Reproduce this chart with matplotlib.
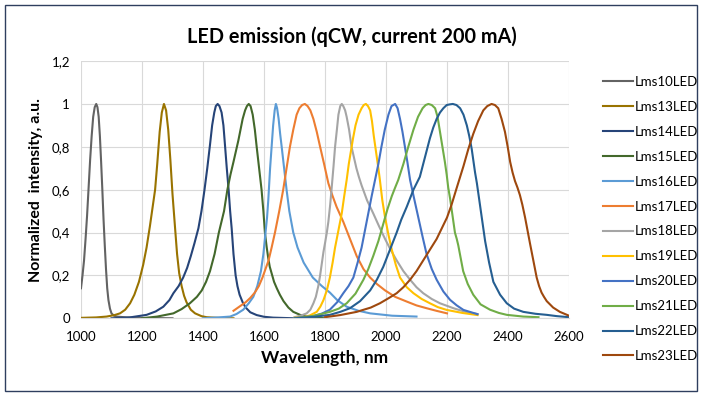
import matplotlib
matplotlib.use("Agg")
import matplotlib.pyplot as plt
from matplotlib.patches import Rectangle

plt.rcParams["font.family"] = ["Lato", "DejaVu Sans"]

# values (wavelength nm, normalized intensity)
lms10_x = [1000, 1005, 1010, 1015, 1020, 1025, 1030, 1035, 1040, 1045, 1050, 1054, 1058, 1062, 1066, 1070,
           1074, 1078, 1082, 1086, 1090, 1095, 1100, 1108, 1117, 1150, 1200, 1300]
lms10_y = [0.14, 0.2, 0.27, 0.37, 0.48, 0.61, 0.74, 0.85, 0.94, 0.985, 1.0, 0.985, 0.94, 0.85, 0.73, 0.6,
           0.46, 0.34, 0.23, 0.14, 0.085, 0.045, 0.023, 0.012, 0.008, 0.004, 0.002, 0.0]

lms13_x = [1000, 1050, 1084, 1110, 1128, 1145, 1161, 1175, 1190, 1204, 1215, 1226, 1235, 1243, 1250, 1258,
           1265, 1272, 1279, 1286, 1293, 1300, 1308, 1315, 1322, 1330, 1338, 1346, 1360, 1374, 1395, 1412,
           1450, 1500]
lms13_y = [0.002, 0.004, 0.008, 0.015, 0.023, 0.04, 0.07, 0.11, 0.17, 0.25, 0.33, 0.43, 0.52, 0.6, 0.72, 0.87,
           0.96, 1.0, 0.97, 0.88, 0.74, 0.58, 0.43, 0.3, 0.21, 0.15, 0.105, 0.075, 0.04, 0.023, 0.01, 0.005,
           0.002, 0.0]

lms14_x = [1100, 1160, 1215, 1245, 1270, 1290, 1303, 1320, 1335, 1348, 1360, 1372, 1385, 1395, 1405, 1414,
           1423, 1430, 1437, 1442, 1448, 1454, 1461, 1467, 1472, 1478, 1484, 1489, 1494, 1500, 1507, 1513,
           1520, 1530, 1540, 1555, 1576, 1600, 1630, 1700]
lms14_y = [0.0, 0.004, 0.016, 0.032, 0.054, 0.085, 0.117, 0.15, 0.19, 0.235, 0.29, 0.35, 0.42, 0.5, 0.6, 0.7,
           0.81, 0.9, 0.96, 0.99, 1.0, 0.99, 0.96, 0.9, 0.81, 0.7, 0.6, 0.5, 0.42, 0.3, 0.2, 0.15,
           0.11, 0.075, 0.05, 0.028, 0.015, 0.007, 0.003, 0.0]

lms15_x = [1200, 1250, 1303, 1330, 1357, 1380, 1396, 1410, 1423, 1438, 1452, 1469, 1480, 1490, 1500, 1508,
           1516, 1523, 1530, 1538, 1544, 1550, 1556, 1563, 1570, 1576, 1584, 1592, 1598, 1603, 1609, 1614,
           1619, 1625, 1633, 1642, 1652, 1664, 1680, 1696, 1720, 1740, 1800]
lms15_y = [0.0, 0.008, 0.023, 0.043, 0.07, 0.1, 0.13, 0.17, 0.22, 0.3, 0.4, 0.5, 0.6, 0.67, 0.73, 0.78,
           0.83, 0.88, 0.93, 0.97, 0.99, 1.0, 0.99, 0.95, 0.88, 0.8, 0.7, 0.6, 0.5, 0.4, 0.33, 0.28,
           0.24, 0.21, 0.17, 0.14, 0.11, 0.08, 0.05, 0.03, 0.015, 0.008, 0.0]

lms16_x = [1400, 1450, 1489, 1510, 1532, 1550, 1565, 1578, 1590, 1598, 1605, 1610, 1614, 1620, 1625, 1630,
           1635, 1639, 1643, 1648, 1653, 1658, 1666, 1674, 1683, 1696, 1710, 1730, 1760, 1790, 1816, 1840,
           1871, 1910, 1948, 2020, 2100]
lms16_y = [0.0, 0.004, 0.008, 0.02, 0.04, 0.07, 0.1, 0.15, 0.22, 0.3, 0.4, 0.47, 0.55, 0.7, 0.8, 0.9,
           0.97, 1.0, 0.98, 0.93, 0.86, 0.8, 0.7, 0.6, 0.5, 0.4, 0.33, 0.26, 0.19, 0.15, 0.12, 0.085,
           0.054, 0.035, 0.023, 0.012, 0.008]

lms17_x = [1500, 1520, 1540, 1555, 1570, 1583, 1595, 1605, 1615, 1625, 1636, 1650, 1663, 1674, 1685, 1696,
           1707, 1716, 1725, 1734, 1743, 1752, 1762, 1773, 1784, 1797, 1811, 1825, 1838, 1860, 1882, 1904,
           1926, 1948, 1970, 1997, 2030, 2068, 2100, 2133, 2165, 2200]
lms17_y = [0.035, 0.055, 0.075, 0.095, 0.12, 0.15, 0.19, 0.23, 0.27, 0.33, 0.4, 0.5, 0.6, 0.7, 0.8, 0.88,
           0.95, 0.98, 0.995, 1.0, 0.99, 0.97, 0.93, 0.87, 0.8, 0.72, 0.63, 0.57, 0.52, 0.45, 0.37, 0.29,
           0.23, 0.19, 0.16, 0.13, 0.1, 0.078, 0.06, 0.047, 0.035, 0.023]

lms18_x = [1700, 1720, 1740, 1752, 1762, 1770, 1778, 1784, 1790, 1795, 1800, 1806, 1811, 1817, 1822, 1828,
           1833, 1839, 1844, 1850, 1855, 1860, 1866, 1871, 1879, 1887, 1895, 1903, 1911, 1920, 1938, 1958,
           1977, 1997, 2015, 2035, 2057, 2079, 2100, 2122, 2150, 2177, 2221, 2260, 2300]
lms18_y = [0.005, 0.012, 0.023, 0.04, 0.07, 0.1, 0.15, 0.2, 0.26, 0.31, 0.35, 0.4, 0.45, 0.53, 0.61, 0.71,
           0.8, 0.88, 0.95, 0.99, 1.0, 0.99, 0.97, 0.94, 0.88, 0.8, 0.75, 0.7, 0.66, 0.62, 0.55, 0.49,
           0.43, 0.37, 0.32, 0.27, 0.22, 0.18, 0.145, 0.117, 0.09, 0.07, 0.047, 0.03, 0.02]

lms19_x = [1700, 1729, 1750, 1773, 1785, 1795, 1806, 1816, 1825, 1833, 1844, 1855, 1863, 1871, 1878, 1885,
           1892, 1900, 1910, 1920, 1927, 1934, 1941, 1948, 1954, 1960, 1965, 1970, 1975, 1980, 1988, 1997,
           2008, 2019, 2032, 2046, 2068, 2090, 2117, 2144, 2170, 2199, 2250, 2300]
lms19_y = [0.002, 0.005, 0.013, 0.03, 0.055, 0.085, 0.13, 0.19, 0.26, 0.33, 0.41, 0.49, 0.57, 0.645, 0.72, 0.78,
           0.84, 0.9, 0.95, 0.98, 0.995, 1.0, 0.99, 0.97, 0.92, 0.85, 0.8, 0.75, 0.7, 0.645, 0.55, 0.47,
           0.39, 0.32, 0.25, 0.19, 0.145, 0.117, 0.09, 0.07, 0.052, 0.039, 0.025, 0.015]

lms20_x = [1700, 1760, 1790, 1816, 1840, 1860, 1877, 1893, 1907, 1920, 1931, 1942, 1953, 1964, 1975, 1985,
           1996, 2008, 2018, 2030, 2038, 2046, 2054, 2062, 2070, 2079, 2092, 2106, 2120, 2133, 2150, 2166,
           2188, 2210, 2232, 2254, 2300]
lms20_y = [0.0, 0.01, 0.022, 0.04, 0.075, 0.117, 0.15, 0.19, 0.26, 0.33, 0.41, 0.49, 0.57, 0.645, 0.72, 0.8,
           0.88, 0.95, 0.99, 1.0, 0.98, 0.93, 0.87, 0.8, 0.73, 0.645, 0.56, 0.47, 0.38, 0.3, 0.23, 0.18,
           0.125, 0.086, 0.06, 0.039, 0.019]

lms21_x = [1700, 1760, 1816, 1845, 1871, 1900, 1926, 1942, 1958, 1975, 1991, 2005, 2019, 2030, 2040, 2057,
           2073, 2090, 2105, 2120, 2130, 2139, 2150, 2161, 2169, 2177, 2185, 2193, 2199,
           2204, 2210, 2215, 2221, 2226, 2232, 2237, 2245, 2253, 2268, 2286, 2310, 2341, 2370, 2396, 2450,
           2500]
lms21_y = [0.0, 0.01, 0.03, 0.045, 0.07, 0.115, 0.18, 0.23, 0.29, 0.36, 0.44, 0.51, 0.57, 0.61, 0.645, 0.72,
           0.8, 0.88, 0.94, 0.98, 0.995, 1.0, 0.995, 0.98, 0.94, 0.87, 0.8, 0.73, 0.67,
           0.61, 0.56, 0.51, 0.45, 0.4, 0.37, 0.34, 0.28, 0.22, 0.16, 0.11, 0.065, 0.04, 0.025, 0.016, 0.008,
           0.005]

lms22_x = [1700, 1760, 1816, 1850, 1882, 1915, 1948, 1970, 1991, 2013, 2035, 2050, 2068, 2090, 2111, 2122,
           2133, 2144, 2155, 2166, 2177, 2188, 2199, 2209, 2219, 2231, 2243, 2254, 2265, 2273, 2281, 2287,
           2292, 2298, 2303, 2309, 2314, 2320, 2325, 2338, 2352, 2374, 2396, 2420, 2450, 2490, 2527, 2560,
           2600]
lms22_y = [0.0, 0.006, 0.016, 0.03, 0.047, 0.08, 0.13, 0.18, 0.24, 0.32, 0.4, 0.46, 0.52, 0.6, 0.66, 0.72,
           0.78, 0.84, 0.89, 0.93, 0.96, 0.98, 0.995, 0.998, 1.0, 0.995, 0.98, 0.95, 0.9, 0.85, 0.79, 0.73,
           0.68, 0.63, 0.58, 0.52, 0.47, 0.41, 0.36, 0.26, 0.17, 0.11, 0.07, 0.045, 0.03, 0.021, 0.016, 0.01,
           0.005]

lms23_x = [1800, 1850, 1904, 1950, 1980, 2010, 2035, 2057, 2079, 2100, 2122, 2144, 2166, 2183, 2200, 2215,
           2230, 2242, 2254, 2270, 2286, 2302, 2319, 2332, 2346, 2357, 2368, 2379, 2390, 2399, 2407, 2415,
           2423, 2431, 2439, 2447, 2456, 2464, 2472, 2483, 2494, 2502, 2510, 2518, 2527, 2548, 2570, 2600]
lms23_y = [0.005, 0.015, 0.03, 0.05, 0.07, 0.095, 0.117, 0.145, 0.18, 0.22, 0.27, 0.32, 0.37, 0.42, 0.47, 0.53,
           0.6, 0.655, 0.71, 0.79, 0.86, 0.92, 0.97, 0.99, 1.0, 0.995, 0.98, 0.93, 0.87, 0.8, 0.73, 0.68,
           0.64, 0.61, 0.575, 0.53, 0.47, 0.41, 0.35, 0.27, 0.19, 0.15, 0.12, 0.1, 0.08, 0.05, 0.03, 0.012]

names = ["Lms10LED", "Lms13LED", "Lms14LED", "Lms15LED", "Lms16LED", "Lms17LED",
         "Lms18LED", "Lms19LED", "Lms20LED", "Lms21LED", "Lms22LED", "Lms23LED"]
colors = ["#636363", "#997300", "#264478", "#43682B", "#5B9BD5", "#ED7D31",
          "#A5A5A5", "#FFC000", "#4472C4", "#70AD47", "#255E91", "#9E480E"]
series = [(lms10_x, lms10_y), (lms13_x, lms13_y), (lms14_x, lms14_y), (lms15_x, lms15_y),
          (lms16_x, lms16_y), (lms17_x, lms17_y), (lms18_x, lms18_y), (lms19_x, lms19_y),
          (lms20_x, lms20_y), (lms21_x, lms21_y), (lms22_x, lms22_y), (lms23_x, lms23_y)]

x_ticks = [1000, 1200, 1400, 1600, 1800, 2000, 2200, 2400, 2600]
y_ticks = [0, 0.2, 0.4, 0.6, 0.8, 1.0, 1.2]
y_labels = ["0", "0,2", "0,4", "0,6", "0,8", "1", "1,2"]

fig = plt.figure(figsize=(7.03, 3.98), dpi=100)
ax = fig.add_axes([0.1152, 0.2003, 0.6942, 0.6462])

for (xs, ys), name, col in zip(series, names, colors):
    ax.plot(xs, ys, color=col, lw=1.5, label=name, solid_joinstyle="round")

ax.set_xlim(1000, 2600)
ax.set_ylim(0, 1.2)
ax.set_xticks(x_ticks)
ax.set_yticks(y_ticks)
ax.set_yticklabels(y_labels)
ax.tick_params(length=0, labelsize=9.5, colors="#000000")
ax.tick_params(axis="x", pad=9)
ax.tick_params(axis="y", pad=8)
ax.grid(True, color="#D9D9D9", lw=0.8)
ax.set_axisbelow(True)
for s in ["top", "right", "left"]:
    ax.spines[s].set_visible(False)
ax.spines["bottom"].set_color("#D9D9D9")

ax.set_xlabel("Wavelength, nm", fontsize=12.5, fontweight="bold", labelpad=5)
ax.set_ylabel("Normalized  intensity, a.u.", fontsize=11.5, fontweight="bold", labelpad=6)
fig.text(0.5, 0.907, "LED emission (qCW, current 200 mA)", ha="center", va="center",
         fontsize=14.3, fontweight="bold")

fig.legend(loc="upper left", bbox_to_anchor=(0.848, 0.826), frameon=False, fontsize=9.5,
           handlelength=2.3, handletextpad=0.15, labelspacing=0.98, borderpad=0)

fig.patches.append(Rectangle((5 / 703, 7 / 398), 692 / 703, 386 / 398, transform=fig.transFigure,
                             fill=False, edgecolor="#2F3F5F", lw=1.0))

fig.savefig("out.png", dpi=100)
